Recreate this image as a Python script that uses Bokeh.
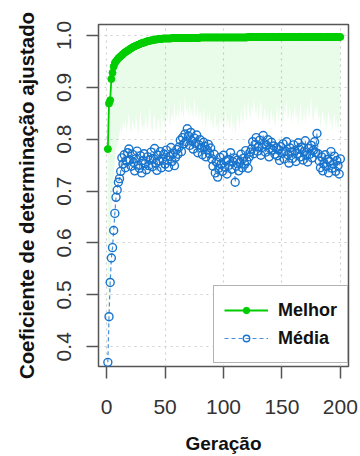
from bokeh.plotting import figure
from bokeh.models import (FixedTicker, PrintfTickFormatter, Legend, LegendItem,
                          Range1d)
from bokeh.embed import file_html
from bokeh.resources import INLINE

# Generation index
geracao = list(range(1, 201))

# Best fitness per generation
melhor = [
    0.781, 0.869, 0.875, 0.916, 0.928, 0.940, 0.947, 0.950, 0.953, 0.956,
    0.958, 0.960, 0.962, 0.964, 0.966, 0.968, 0.969, 0.971, 0.972, 0.974,
    0.975, 0.977, 0.978, 0.979, 0.980, 0.981, 0.982, 0.983, 0.984, 0.985,
    0.986, 0.986, 0.987, 0.988, 0.989, 0.989, 0.990, 0.990, 0.991, 0.991,
    0.992, 0.992, 0.992, 0.993, 0.993, 0.993, 0.993, 0.994, 0.994, 0.994,
    0.994, 0.994, 0.994, 0.994, 0.994, 0.995, 0.995, 0.995, 0.995, 0.995,
    0.995, 0.995, 0.995, 0.995, 0.995, 0.995, 0.995, 0.995, 0.995, 0.995,
    0.995, 0.995, 0.995, 0.995, 0.995, 0.995, 0.995, 0.995, 0.995, 0.996,
    0.996, 0.996, 0.996, 0.996, 0.996, 0.996, 0.996, 0.996, 0.996, 0.996,
    0.996, 0.996, 0.996, 0.996, 0.996, 0.996, 0.996, 0.996, 0.996, 0.996,
    0.996, 0.996, 0.996, 0.996, 0.996, 0.996, 0.996, 0.996, 0.996, 0.996,
    0.996, 0.996, 0.996, 0.996, 0.996, 0.996, 0.996, 0.996, 0.996, 0.996,
    0.997, 0.997, 0.997, 0.997, 0.997, 0.997, 0.997, 0.997, 0.997, 0.997,
    0.997, 0.997, 0.997, 0.997, 0.997, 0.997, 0.997, 0.997, 0.997, 0.997,
    0.997, 0.997, 0.997, 0.997, 0.997, 0.997, 0.997, 0.997, 0.997, 0.997,
    0.997, 0.997, 0.997, 0.997, 0.997, 0.997, 0.997, 0.997, 0.997, 0.997,
    0.997, 0.997, 0.997, 0.997, 0.997, 0.997, 0.997, 0.997, 0.997, 0.997,
    0.997, 0.997, 0.997, 0.997, 0.997, 0.997, 0.997, 0.997, 0.997, 0.997,
    0.997, 0.997, 0.997, 0.997, 0.997, 0.997, 0.997, 0.997, 0.997, 0.997,
    0.997, 0.997, 0.997, 0.997, 0.997, 0.997, 0.997, 0.997, 0.997, 0.997,
]

# Mean fitness per generation
media = [
    0.370, 0.458, 0.524, 0.571, 0.591, 0.624, 0.657, 0.688, 0.702, 0.717,
    0.724, 0.738, 0.764, 0.752, 0.770, 0.745, 0.758, 0.774, 0.781, 0.760,
    0.748, 0.771, 0.755, 0.739, 0.762, 0.777, 0.750, 0.744, 0.768, 0.735,
    0.759, 0.772, 0.753, 0.741, 0.766, 0.749, 0.760, 0.775, 0.747, 0.763,
    0.782, 0.754, 0.740, 0.769, 0.758, 0.776, 0.745, 0.762, 0.771, 0.752,
    0.779, 0.760, 0.746, 0.767, 0.784, 0.757, 0.773, 0.749, 0.765, 0.780,
    0.771, 0.785, 0.798, 0.776, 0.803, 0.791, 0.810, 0.795, 0.820, 0.806,
    0.788, 0.813, 0.797, 0.781, 0.802, 0.792, 0.808, 0.774, 0.789, 0.799,
    0.783, 0.770, 0.794, 0.786, 0.766, 0.779, 0.790, 0.772, 0.783, 0.762,
    0.748, 0.771, 0.735, 0.756, 0.727, 0.744, 0.765, 0.752, 0.738, 0.769,
    0.746, 0.758, 0.733, 0.761, 0.750, 0.774, 0.742, 0.757, 0.764, 0.717,
    0.748, 0.760, 0.739, 0.755, 0.771, 0.745, 0.763, 0.752, 0.778, 0.758,
    0.744, 0.766, 0.775, 0.781, 0.795, 0.772, 0.790, 0.803, 0.777, 0.786,
    0.798, 0.769, 0.784, 0.807, 0.791, 0.775, 0.788, 0.799, 0.766, 0.782,
    0.794, 0.779, 0.787, 0.771, 0.783, 0.768, 0.780, 0.759, 0.786, 0.773,
    0.791, 0.762, 0.777, 0.795, 0.770, 0.754, 0.783, 0.775, 0.763, 0.789,
    0.778, 0.757, 0.772, 0.793, 0.781, 0.766, 0.785, 0.760, 0.776, 0.797,
    0.769, 0.756, 0.782, 0.771, 0.788, 0.764, 0.779, 0.795, 0.774, 0.811,
    0.772, 0.758, 0.745, 0.766, 0.739, 0.753, 0.770, 0.748, 0.761, 0.735,
    0.757, 0.776, 0.744, 0.752, 0.767, 0.738, 0.759, 0.749, 0.733, 0.762,
]

# Median fitness per generation (lower edge of the shaded band)
mediana = [
    0.395, 0.520, 0.600, 0.660, 0.700, 0.730, 0.760, 0.780, 0.790, 0.800,
    0.812, 0.825, 0.808, 0.836, 0.819, 0.842, 0.815, 0.829, 0.851, 0.823,
    0.810, 0.838, 0.826, 0.817, 0.845, 0.831, 0.806, 0.834, 0.858, 0.821,
    0.829, 0.814, 0.847, 0.833, 0.818, 0.840, 0.862, 0.825, 0.811, 0.837,
    0.849, 0.822, 0.816, 0.843, 0.830, 0.807, 0.855, 0.827, 0.839, 0.818,
    0.846, 0.834, 0.868, 0.821, 0.840, 0.852, 0.829, 0.875, 0.836, 0.848,
    0.861, 0.832, 0.879, 0.845, 0.857, 0.838, 0.884, 0.850, 0.866, 0.841,
    0.872, 0.847, 0.859, 0.836, 0.881, 0.853, 0.842, 0.868, 0.834, 0.856,
    0.845, 0.827, 0.862, 0.839, 0.818, 0.850, 0.831, 0.858, 0.824, 0.843,
    0.815, 0.837, 0.852, 0.820, 0.833, 0.809, 0.846, 0.826, 0.841, 0.813,
    0.835, 0.858, 0.822, 0.843, 0.817, 0.830, 0.854, 0.811, 0.839, 0.808,
    0.826, 0.849, 0.834, 0.819, 0.862, 0.841, 0.828, 0.870, 0.845, 0.833,
    0.876, 0.852, 0.839, 0.866, 0.848, 0.881, 0.857, 0.843, 0.869, 0.836,
    0.859, 0.874, 0.846, 0.831, 0.863, 0.850, 0.838, 0.855, 0.827, 0.844,
    0.861, 0.835, 0.849, 0.822, 0.840, 0.866, 0.832, 0.853, 0.871, 0.839,
    0.826, 0.857, 0.844, 0.877, 0.835, 0.848, 0.864, 0.829, 0.851, 0.842,
    0.869, 0.837, 0.856, 0.824, 0.846, 0.873, 0.840, 0.833, 0.859, 0.828,
    0.850, 0.865, 0.838, 0.854, 0.882, 0.845, 0.831, 0.862, 0.847, 0.868,
    0.836, 0.852, 0.821, 0.843, 0.858, 0.829, 0.847, 0.815, 0.839, 0.856,
    0.825, 0.844, 0.818, 0.836, 0.851, 0.823, 0.841, 0.812, 0.833, 0.845,
]

x_ticks = [0, 50, 100, 150, 200]
y_ticks = [0.4, 0.5, 0.6, 0.7, 0.8, 0.9, 1.0]

VERDE = "#00CD00"   # green3
AZUL = "#1874CD"    # dodgerblue3
FONTE = "Liberation Sans"

p = figure(width=360, height=456,
           x_range=Range1d(-7, 207), y_range=Range1d(0.362, 1.021),
           output_backend="svg", toolbar_location=None,
           min_border_left=98, min_border_right=12,
           min_border_top=24, min_border_bottom=90)

p.background_fill_color = "white"
p.border_fill_color = "white"
p.outline_line_color = "#555555"
p.outline_line_width = 1.5

# dotted reference grid
for g in (p.xgrid, p.ygrid):
    g.grid_line_color = "#cfcfcf"
    g.grid_line_dash = "dotted"
    g.grid_line_width = 1.2
p.xgrid.ticker = FixedTicker(ticks=x_ticks)
p.ygrid.ticker = FixedTicker(ticks=y_ticks)

# shaded band between median and best
p.varea(x=geracao, y1=mediana, y2=melhor, fill_color=VERDE, fill_alpha=0.085)

mean_line = p.line(geracao, media, line_color=AZUL, line_width=1.2,
                   line_dash="4 3", line_alpha=0.8)
mean_pts = p.scatter(geracao, media, marker="circle", size=8,
                     line_color=AZUL, line_width=1.4, fill_color=None)

best_line = p.line(geracao, melhor, line_color=VERDE, line_width=1.8)
best_pts = p.scatter(geracao, melhor, marker="circle", size=7,
                     line_color=VERDE, fill_color=VERDE)

# axes
p.xaxis.ticker = FixedTicker(ticks=x_ticks)
p.yaxis.ticker = FixedTicker(ticks=y_ticks)
p.xaxis.formatter = PrintfTickFormatter(format="%d")
p.yaxis.formatter = PrintfTickFormatter(format="%.1f")
p.yaxis.major_label_orientation = "vertical"

for ax in (p.xaxis, p.yaxis):
    ax.axis_line_color = None
    ax.major_tick_line_color = "#555555"
    ax.major_tick_line_width = 1.5
    ax.major_tick_out = 12
    ax.major_tick_in = 0
    ax.minor_tick_line_color = None
    ax.major_label_text_font = FONTE
    ax.major_label_text_font_size = "21px"
    ax.major_label_text_color = "#333333"
    ax.axis_label_text_font = FONTE
    ax.axis_label_text_font_style = "bold"
    ax.axis_label_text_color = "#111111"

p.xaxis.axis_label = "Geração"
p.xaxis.axis_label_text_font_size = "19px"
p.xaxis.major_label_standoff = 21
p.xaxis.axis_label_standoff = 16

p.yaxis.axis_label = "Coeficiente de determinação ajustado"
p.yaxis.axis_label_text_font_size = "20.4px"
p.yaxis.major_label_standoff = 15
p.yaxis.axis_label_standoff = 17

legend = Legend(items=[
    LegendItem(label="Melhor", renderers=[best_line, best_pts]),
    LegendItem(label="Média", renderers=[mean_line, mean_pts]),
], location=(115, 3))
legend.border_line_color = "#666666"
legend.border_line_width = 1.5
legend.background_fill_color = "white"
legend.background_fill_alpha = 1.0
legend.padding = 10
legend.spacing = 0
legend.margin = 0
legend.label_height = 28
legend.glyph_height = 16
legend.glyph_width = 44
legend.label_standoff = 10
legend.label_text_font = FONTE
legend.label_text_font_size = "18px"
legend.label_text_font_style = "bold"
legend.label_text_color = "#111111"
p.add_layout(legend)

open("out.html", "w").write(file_html(p, INLINE))
